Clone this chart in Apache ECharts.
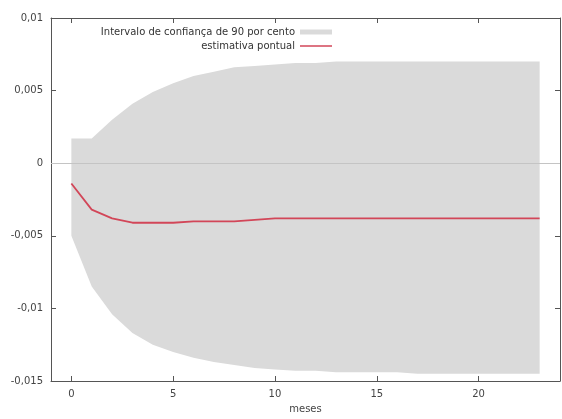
<!DOCTYPE html>
<html>
<head>
<meta charset="utf-8">
<script src="https://cdn.jsdelivr.net/npm/echarts@6/dist/echarts.min.js"></script>
<style>
html,body{margin:0;padding:0;background:#fff;}
#chart{width:562px;height:419px;}
</style>
</head>
<body>
<div id="chart"></div>
<script>
// months after shock
const months = [0,1,2,3,4,5,6,7,8,9,10,11,12,13,14,15,16,17,18,19,20,21,22,23];
// 90% confidence interval bounds
const upper = [0.0017,0.0017,0.0030,0.0041,0.0049,0.0055,0.0060,0.0063,0.0066,0.0067,0.0068,0.0069,
               0.0069,0.0070,0.0070,0.0070,0.0070,0.0070,0.0070,0.0070,0.0070,0.0070,0.0070,0.0070];
const lower = [-0.0050,-0.0085,-0.0104,-0.0117,-0.0125,-0.0130,-0.0134,-0.0137,-0.0139,-0.0141,-0.0142,-0.0143,
               -0.0143,-0.0144,-0.0144,-0.0144,-0.0144,-0.0145,-0.0145,-0.0145,-0.0145,-0.0145,-0.0145,-0.0145];
// point estimate
const point = [-0.0014,-0.0032,-0.0038,-0.0041,-0.0041,-0.0041,-0.0040,-0.0040,-0.0040,-0.0039,-0.0038,-0.0038,
               -0.0038,-0.0038,-0.0038,-0.0038,-0.0038,-0.0038,-0.0038,-0.0038,-0.0038,-0.0038,-0.0038,-0.0038];
const xTicks = [0,5,10,15,20];
const yTicks = [-0.015,-0.01,-0.005,0,0.005,0.01];
const bandName = 'Intervalo de confiança de 90 por cento';
const pointName = 'estimativa pontual';
const xLabel = 'meses';

const FONT = 'DejaVu Sans';
const FS = 10;
const axisCol = '#555';
const fmtY = v => String(+(+v).toFixed(3)).replace('.', ',');

const bandData = months.map((m,i) => [m, upper[i], lower[i]]);
const pointData = months.map((m,i) => [m, point[i]]);

const xBase = (pos, showLabel) => ({
  type:'value', position:pos, min:-1, max:24,
  axisLine:{show:true, onZero:false, lineStyle:{color:axisCol, width:1}},
  axisTick:{show:true, inside:true, length:5, customValues:xTicks, lineStyle:{color:axisCol}},
  axisLabel:{show:showLabel, customValues:xTicks, color:'#444', fontFamily:FONT, fontSize:FS, margin:8},
  splitLine:{show:false}
});
const yBase = (pos, showLabel) => ({
  type:'value', position:pos, min:-0.015, max:0.01,
  axisLine:{show:true, onZero:false, lineStyle:{color:axisCol, width:1}},
  axisTick:{show:true, inside:true, length:5, customValues:yTicks, lineStyle:{color:axisCol}},
  axisLabel:{show:showLabel, customValues:yTicks, formatter:fmtY, color:'#444', fontFamily:FONT, fontSize:FS, margin:8},
  splitLine:{show:false}
});

function renderBand(params, api) {
  if (params.dataIndex !== 0) return null;
  const pts = [];
  for (let i = 0; i < bandData.length; i++) pts.push(api.coord([bandData[i][0], bandData[i][1]]));
  for (let i = bandData.length - 1; i >= 0; i--) pts.push(api.coord([bandData[i][0], bandData[i][2]]));
  return {type:'polygon', shape:{points:pts}, style:{fill:'#dadada', stroke:null}};
}

const chart = echarts.init(document.getElementById('chart'), null, {renderer:'canvas'});
chart.setOption({
  animation:false,
  backgroundColor:'#fff',
  grid:{left:51, right:2, top:18, bottom:36, containLabel:false},
  xAxis:[
    Object.assign(xBase('bottom', true), {name:xLabel, nameLocation:'middle', nameGap:23,
      nameTextStyle:{color:'#444', fontFamily:FONT, fontSize:FS}}),
    xBase('top', false)
  ],
  yAxis:[ yBase('left', true), yBase('right', false) ],
  legend:[
    {data:[{name:bandName, icon:'rect'}], right:225, top:22, orient:'vertical', align:'right',
     itemWidth:32, itemHeight:5, selectedMode:false,
     textStyle:{color:'#333', fontFamily:FONT, fontSize:FS}},
    {data:[{name:pointName, icon:'rect'}], right:225, top:36, orient:'vertical', align:'right',
     itemWidth:32, itemHeight:1.5, selectedMode:false,
     textStyle:{color:'#333', fontFamily:FONT, fontSize:FS}}
  ],
  series:[
    {name:bandName, type:'custom', data:bandData, renderItem:renderBand,
     encode:{x:0, y:[1,2]}, itemStyle:{color:'#dadada'}, silent:true, z:1},
    {name:pointName, type:'line', data:pointData, symbol:'none',
     itemStyle:{color:'#d24658'}, lineStyle:{color:'#d24658', width:1.8}, z:3,
     markLine:{silent:true, symbol:'none', label:{show:false},
       lineStyle:{color:'#c4c4c4', type:'solid', width:1},
       data:[{yAxis:0}]}}
  ]
});
</script>
</body>
</html>
